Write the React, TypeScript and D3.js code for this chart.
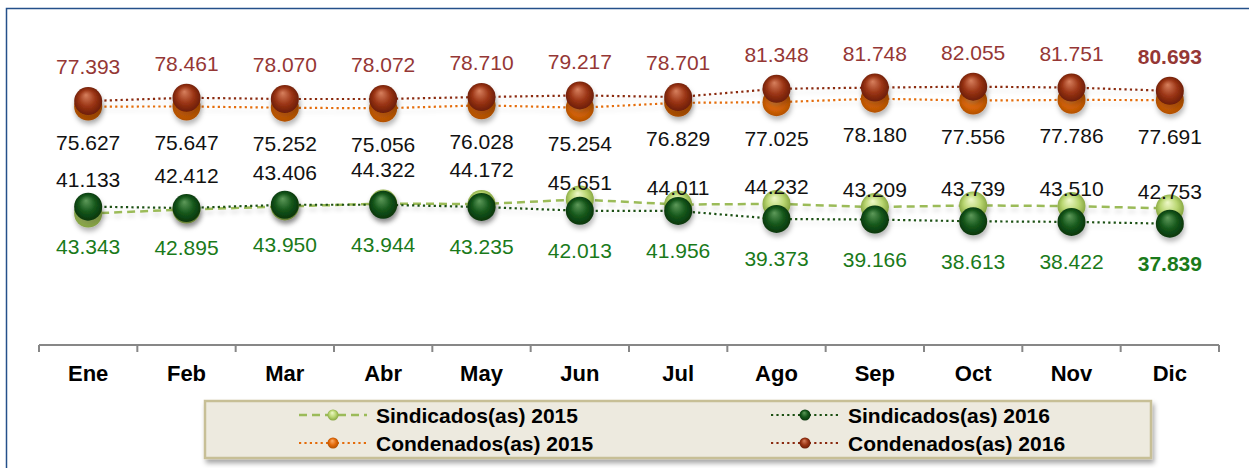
import React from "react";
import * as d3 from "d3";

const months = ["Ene", "Feb", "Mar", "Abr", "May", "Jun", "Jul", "Ago", "Sep", "Oct", "Nov", "Dic"];
const sind2015 = [41.133, 42.412, 43.406, 44.322, 44.172, 45.651, 44.011, 44.232, 43.209, 43.739, 43.51, 42.753];
const sind2016 = [43.343, 42.895, 43.95, 43.944, 43.235, 42.013, 41.956, 39.373, 39.166, 38.613, 38.422, 37.839];
const cond2015 = [75.627, 75.647, 75.252, 75.056, 76.028, 75.254, 76.829, 77.025, 78.18, 77.556, 77.786, 77.691];
const cond2016 = [77.393, 78.461, 78.07, 78.072, 78.71, 79.217, 78.701, 81.348, 81.748, 82.055, 81.751, 80.693];

const W = 1249;
const H = 468;
const FONT = "'Liberation Sans', Arial, sans-serif";

type Series = {
  key: string;
  name: string;
  values: number[];
  lineColor: string;
  dash: string;
  width: number;
  grad: string;
  stops: string[];
};

const series: Series[] = [
  { key: "s15", name: "Sindicados(as) 2015", values: sind2015, lineColor: "#9BBB59", dash: "8 5", width: 2.5, grad: "gS15", stops: ["#EEF8C8", "#B9D671", "#7F9F3A"] },
  { key: "c15", name: "Condenados(as) 2015", values: cond2015, lineColor: "#E46C0A", dash: "2.2 3.2", width: 2.2, grad: "gC15", stops: ["#FBB070", "#E36A0A", "#A94C00"] },
  { key: "s16", name: "Sindicados(as) 2016", values: sind2016, lineColor: "#1B4F12", dash: "2.2 3.2", width: 2.2, grad: "gS16", stops: ["#5E9A5A", "#14561A", "#08300A"] },
  { key: "c16", name: "Condenados(as) 2016", values: cond2016, lineColor: "#8A2A10", dash: "2.2 3.2", width: 2.2, grad: "gC16", stops: ["#D7805E", "#9A3414", "#641A05"] },
];

export default function App() {
  const x = d3.scaleBand<string>().domain(months).range([39, 1219]).padding(0);
  const bw = x.bandwidth();
  const cx = (i: number) => (x(months[i]) as number) + bw / 2;
  const y = d3.scaleLinear().domain([0, 100]).range([341, 31]);
  const axisY = 345;
  const fmt = d3.format(".3f");
  const line = d3
    .line<number>()
    .x((_, i) => cx(i))
    .y((v) => y(v));

  const boundaries = d3.range(months.length + 1).map((i) => (i < months.length ? (x(months[i]) as number) : 1219));

  const labelDefs = [
    { values: cond2016, color: "#953735", dy: (i: number) => -34 },
    { values: cond2015, color: "#111", dy: (i: number) => 36 },
    { values: sind2015, color: "#111", dy: (i: number) => (i < 5 ? -34 : -17) },
    { values: sind2016, color: "#1A7A1A", dy: (i: number) => 40 },
  ];

  const legendItems = [
    { s: series[0], lx: 299, row: 0 },
    { s: series[1], lx: 299, row: 1 },
    { s: series[2], lx: 771, row: 0 },
    { s: series[3], lx: 771, row: 1 },
  ];

  return (
    <div style={{ position: "absolute", left: 0, top: 0, width: W, height: H, background: "#fff" }}>
      <svg width={W} height={H} style={{ display: "block", fontFamily: FONT }}>
        <defs>
          {series.map((s) => (
            <radialGradient key={s.grad} id={s.grad} cx="50%" cy="50%" r="55%" fx="42%" fy="28%">
              <stop offset="0%" stopColor={s.stops[0]} />
              <stop offset="55%" stopColor={s.stops[1]} />
              <stop offset="100%" stopColor={s.stops[2]} />
            </radialGradient>
          ))}
          <filter id="shadow" x="-30%" y="-30%" width="160%" height="180%">
            <feDropShadow dx="1" dy="4" stdDeviation="2.5" floodColor="#000" floodOpacity="0.28" />
          </filter>
          <filter id="lineShadow" x="-5%" y="-50%" width="110%" height="200%">
            <feDropShadow dx="0" dy="4" stdDeviation="2" floodColor="#000" floodOpacity="0.12" />
          </filter>
          <filter id="legShadow" x="-5%" y="-20%" width="110%" height="150%">
            <feDropShadow dx="2" dy="4" stdDeviation="2.5" floodColor="#000" floodOpacity="0.35" />
          </filter>
        </defs>

        <rect x={6.5} y={8.5} width={W + 20} height={H + 20} fill="#fff" stroke="#24508A" strokeWidth={1.5} />

        {/* category axis */}
        <line x1={39} x2={1219} y1={axisY} y2={axisY} stroke="#878787" strokeWidth={2} />
        {boundaries.map((bx, i) => (
          <line key={"t" + i} x1={bx} x2={bx} y1={axisY} y2={axisY + 7} stroke="#878787" strokeWidth={2} />
        ))}
        {months.map((m, i) => (
          <text key={m} x={cx(i)} y={381} textAnchor="middle" fontSize={22} fontWeight="bold" fill="#000">
            {m}
          </text>
        ))}

        {/* lines */}
        <g filter="url(#lineShadow)">
          {series.map((s) => (
            <path
              key={"l" + s.key}
              d={line(s.values) as string}
              fill="none"
              stroke={s.lineColor}
              strokeWidth={s.width}
              strokeDasharray={s.dash}
            />
          ))}
        </g>

        {/* markers */}
        {series.map((s) => (
          <g key={"m" + s.key} filter="url(#shadow)">
            {s.values.map((v, i) => (
              <circle key={i} cx={cx(i)} cy={y(v)} r={14} fill={`url(#${s.grad})`} />
            ))}
          </g>
        ))}

        {/* data labels */}
        {labelDefs.map((ld, k) =>
          ld.values.map((v, i) => (
            <text
              key={"d" + k + "-" + i}
              x={cx(i)}
              y={y(v) + ld.dy(i)}
              dy="0.35em"
              textAnchor="middle"
              fontSize={21}
              fontWeight={i === months.length - 1 && (k === 0 || k === 3) ? "bold" : "normal"}
              fill={ld.color}
            >
              {fmt(v)}
            </text>
          ))
        )}

        {/* legend */}
        <rect x={205} y={401} width={946} height={57} fill="#EDEADF" stroke="#C7BF96" strokeWidth={2.5} filter="url(#legShadow)" />
        {legendItems.map(({ s, lx, row }) => {
          const ly = 415 + row * 28;
          return (
            <g key={"lg" + s.key}>
              <line x1={lx} x2={lx + 68} y1={ly} y2={ly} stroke={s.lineColor} strokeWidth={s.width} strokeDasharray={s.dash} />
              <circle cx={lx + 34} cy={ly} r={5.5} fill={`url(#${s.grad})`} />
              <text x={lx + 77} y={ly} dy="0.36em" fontSize={21} fontWeight="bold" fill="#000">
                {s.name}
              </text>
            </g>
          );
        })}
      </svg>
    </div>
  );
}
